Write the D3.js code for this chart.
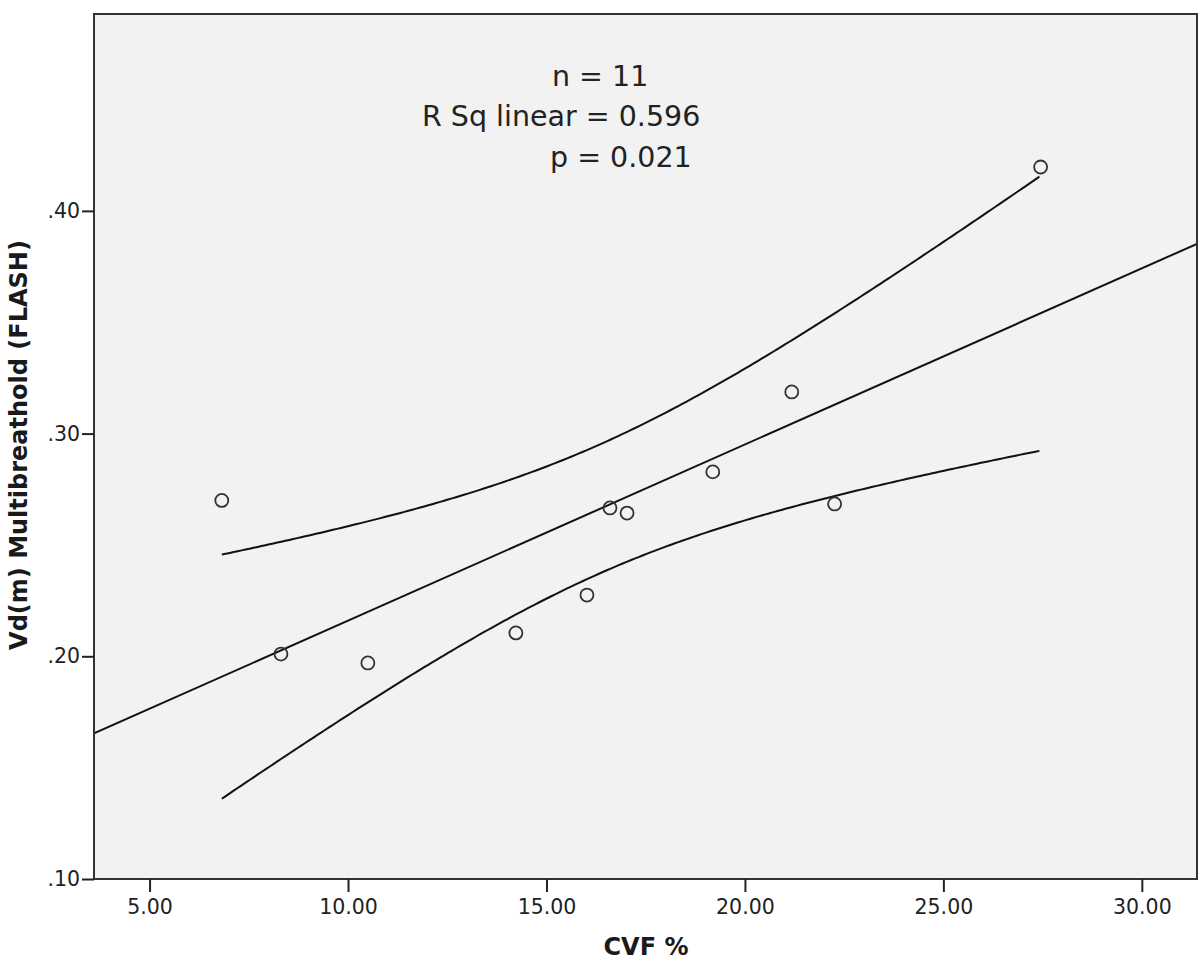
<!DOCTYPE html>
<html>
<head>
<meta charset="utf-8">
<script src="https://cdn.jsdelivr.net/npm/d3@7"></script>
<style>
  body { margin: 0; background: #fff; }
  .tick text { font-family: "DejaVu Sans", sans-serif; font-size: 20.5px; fill: #222; }
  .axis path { display: none; }
  .axis line { stroke: #222; stroke-width: 2; }
  .title { font-family: "DejaVu Sans", sans-serif; font-weight: bold; font-size: 24px; fill: #1a1a1a; }
  .note { font-family: "DejaVu Sans", sans-serif; font-size: 28.5px; fill: #222; }
</style>
</head>
<body>
<div id="vis"></div>
<script>
// CVF % (x) and Vd(m) Multibreathold (y)
var cvf = [6.82, 8.31, 10.50, 14.23, 16.02, 16.60, 17.03, 19.19, 21.18, 22.26, 27.45];
var vdm = [0.270, 0.201, 0.197, 0.2105, 0.2275, 0.2666, 0.2643, 0.2828, 0.3187, 0.2684, 0.4197];
var xTicks = [5, 10, 15, 20, 25, 30];
var yTicks = [0.10, 0.20, 0.30, 0.40];
var notes = ["n = 11", "R Sq linear = 0.596", "p = 0.021"];

var width = 1200, height = 963;
var margin = { left: 94, top: 14, right: 3, bottom: 84 };
var drawWidth = width - margin.left - margin.right;
var drawHeight = height - margin.top - margin.bottom;

var svg = d3.select("#vis").append("svg")
    .attr("width", width)
    .attr("height", height);

var xScale = d3.scaleLinear().domain([3.60, 31.39]).range([0, drawWidth]);
var yScale = d3.scaleLinear().domain([0.10, 0.4884]).range([drawHeight, 0]);

var g = svg.append("g")
    .attr("transform", "translate(" + margin.left + "," + margin.top + ")");

// plot background
g.append("rect")
    .attr("width", drawWidth)
    .attr("height", drawHeight)
    .attr("fill", "#f2f2f2");

var clip = svg.append("clipPath").attr("id", "clip")
    .append("rect").attr("width", drawWidth).attr("height", drawHeight);

// least squares fit and 95% band for the mean
var data = cvf.map(function(x, i) { return { x: x, y: vdm[i] }; });
var n = data.length;
var mx = d3.mean(cvf), my = d3.mean(vdm);
var sxx = d3.sum(cvf, function(x) { return (x - mx) * (x - mx); });
var sxy = d3.sum(data, function(d) { return (d.x - mx) * (d.y - my); });
var slope = sxy / sxx;
var icpt = my - slope * mx;
var sse = d3.sum(data, function(d) { var r = d.y - (icpt + slope * d.x); return r * r; });
var s = Math.sqrt(sse / (n - 2));
var tval = 2.262; // t(0.975, 9)

var fit = function(x) { return icpt + slope * x; };
var half = function(x) { return tval * s * Math.sqrt(1 / n + (x - mx) * (x - mx) / sxx); };

var xs = d3.range(d3.min(cvf), d3.max(cvf) + 0.001, 0.1);

var line = d3.line()
    .x(function(d) { return xScale(d[0]); })
    .y(function(d) { return yScale(d[1]); });

var lines = g.append("g").attr("clip-path", "url(#clip)");

lines.append("path")
    .datum(xScale.domain().map(function(x) { return [x, fit(x)]; }))
    .attr("d", line)
    .attr("fill", "none").attr("stroke", "#111").attr("stroke-width", 2);

lines.append("path")
    .datum(xs.map(function(x) { return [x, fit(x) + half(x)]; }))
    .attr("d", line)
    .attr("fill", "none").attr("stroke", "#111").attr("stroke-width", 2);

lines.append("path")
    .datum(xs.map(function(x) { return [x, fit(x) - half(x)]; }))
    .attr("d", line)
    .attr("fill", "none").attr("stroke", "#111").attr("stroke-width", 2);

// points
g.selectAll("circle.pt")
    .data(data)
    .enter().append("circle")
    .attr("class", "pt")
    .attr("cx", function(d) { return xScale(d.x); })
    .attr("cy", function(d) { return yScale(d.y); })
    .attr("r", 6.5)
    .attr("fill", "none")
    .attr("stroke", "#333")
    .attr("stroke-width", 1.8);

// frame
g.append("rect")
    .attr("width", drawWidth)
    .attr("height", drawHeight)
    .attr("fill", "none")
    .attr("stroke", "#333")
    .attr("stroke-width", 2);

// axes
var xAxis = d3.axisBottom(xScale)
    .tickValues(xTicks)
    .tickSize(13)
    .tickPadding(7)
    .tickFormat(d3.format(".2f"));

var yAxis = d3.axisLeft(yScale)
    .tickValues(yTicks)
    .tickSize(12)
    .tickPadding(2)
    .tickFormat(function(d) { return d3.format(".2f")(d).replace(/^0/, ""); });

g.append("g")
    .attr("class", "axis")
    .attr("transform", "translate(0," + drawHeight + ")")
    .call(xAxis);

g.append("g")
    .attr("class", "axis")
    .call(yAxis);

// axis titles
svg.append("text")
    .attr("class", "title")
    .attr("x", 646)
    .attr("y", 955)
    .attr("text-anchor", "middle")
    .text("CVF %");

svg.append("text")
    .attr("class", "title")
    .attr("transform", "translate(27,445) rotate(-90)")
    .attr("text-anchor", "middle")
    .text("Vd(m) Multibreathold (FLASH)");

// annotation
var noteX = [552, 422, 550];
var noteY = [86, 126, 167];
svg.selectAll("text.note")
    .data(notes)
    .enter().append("text")
    .attr("class", "note")
    .attr("x", function(d, i) { return noteX[i]; })
    .attr("y", function(d, i) { return noteY[i]; })
    .text(function(d) { return d; });
</script>
</body>
</html>
